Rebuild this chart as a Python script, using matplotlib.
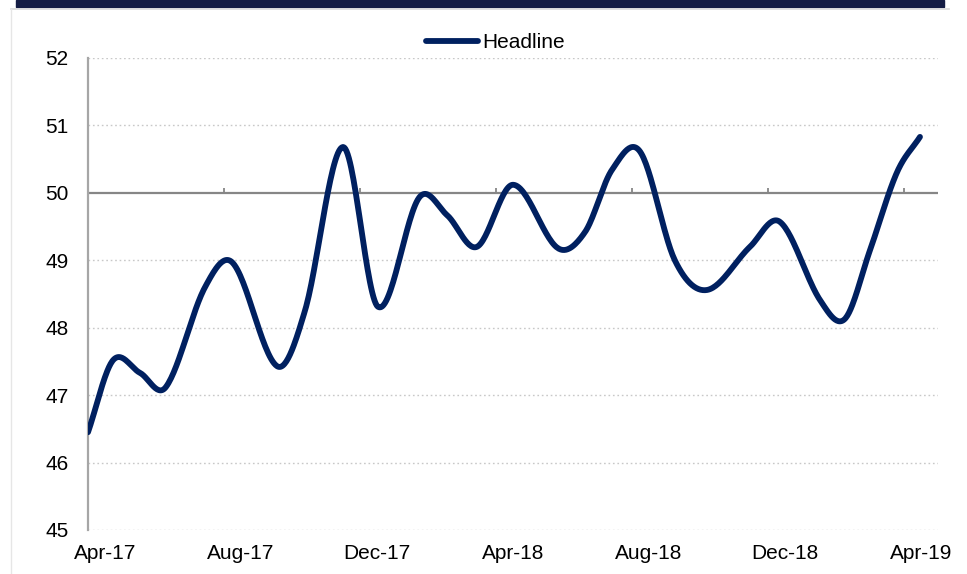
import numpy as np
import matplotlib
matplotlib.use("Agg")
from matplotlib import pyplot as plt
from matplotlib.lines import Line2D
from matplotlib.patches import Rectangle

# months since Apr-17 (start of month) and the headline reading
months = [0.0, 0.74, 1.53, 2.29, 3.44, 4.26, 5.56, 6.38, 7.50, 8.53, 9.74,
          10.56, 11.44, 12.50, 13.82, 14.62, 15.41, 16.24, 17.26, 18.21,
          19.47, 20.35, 21.53, 22.26, 23.00, 23.79, 24.47]
headline = [46.45, 47.52, 47.33, 47.12, 48.60, 48.96, 47.43, 48.25, 50.68,
            48.31, 49.93, 49.67, 49.20, 50.12, 49.18, 49.42, 50.34, 50.61,
            49.00, 48.56, 49.20, 49.57, 48.41, 48.13, 49.15, 50.30, 50.83]

tick_labels = ["Apr-17", "Aug-17", "Dec-17", "Apr-18", "Aug-18", "Dec-18", "Apr-19"]
y_ticks = [45, 46, 47, 48, 49, 50, 51, 52]

NAVY = "#002060"


def smooth(x, y, n=30):
    # cubic hermite with finite-difference slopes (Excel-like smoothed line)
    x = np.asarray(x, float)
    y = np.asarray(y, float)
    m = np.zeros_like(y)
    m[1:-1] = (y[2:] - y[:-2]) / (x[2:] - x[:-2])
    m[0] = (y[1] - y[0]) / (x[1] - x[0])
    m[-1] = (y[-1] - y[-2]) / (x[-1] - x[-2])
    xs, ys = [], []
    for i in range(len(x) - 1):
        h = x[i + 1] - x[i]
        t = np.linspace(0, 1, n, endpoint=False)
        h00 = 2 * t**3 - 3 * t**2 + 1
        h10 = t**3 - 2 * t**2 + t
        h01 = -2 * t**3 + 3 * t**2
        h11 = t**3 - t**2
        xs.append(x[i] + t * h)
        ys.append(h00 * y[i] + h10 * h * m[i] + h01 * y[i + 1] + h11 * h * m[i + 1])
    xs.append([x[-1]])
    ys.append([y[-1]])
    return np.concatenate(xs), np.concatenate(ys)


plt.rcParams["font.family"] = ["Liberation Sans", "DejaVu Sans"]

fig = plt.figure(figsize=(9.67, 5.74), dpi=100)
ax = fig.add_axes([88 / 967, 1 - 530 / 574, 850 / 967, 472 / 574])

# top banner and frame
fig.patches.append(Rectangle((16 / 967, 1 - 7 / 574), 928 / 967, 7 / 574,
                             transform=fig.transFigure, color="#141c44", zorder=0))
fig.add_artist(Line2D([11 / 967, 949 / 967], [1 - 8.5 / 574, 1 - 8.5 / 574],
                      transform=fig.transFigure, color="#d9d9d9", lw=1.2))
fig.add_artist(Line2D([11 / 967, 11 / 967], [0, 1 - 8.5 / 574],
                      transform=fig.transFigure, color="#e6e6e6", lw=1.0))

ax.set_xlim(0, 25)
ax.set_ylim(45, 52)

for v in y_ticks:
    if v != 50:
        ax.axhline(v, color="#c8c8c8", lw=1.0, ls=(0, (1.2, 2.0)), zorder=1)
ax.axhline(50, color="#868686", lw=1.6, zorder=2)
quarters = np.arange(4, 25, 4)
ax.vlines(quarters, 50, 50.07, color="#868686", lw=1.3, zorder=2)

xs, ys = smooth(months, headline)
ax.plot(xs, ys, color=NAVY, lw=4.2, solid_capstyle="round", zorder=3, label="Headline")

ax.set_yticks(y_ticks)
ax.set_xticks(np.arange(0, 25, 4) + 0.5)
ax.set_xticklabels(tick_labels)
ax.tick_params(axis="both", length=0, labelsize=15, colors="black")
ax.tick_params(axis="y", pad=14)
ax.tick_params(axis="x", pad=10)

for side in ["top", "right", "bottom"]:
    ax.spines[side].set_visible(False)
ax.spines["left"].set_color("#a6a6a6")
ax.spines["left"].set_linewidth(1.6)

fig.legend(handles=[Line2D([], [], color=NAVY, lw=4.2, solid_capstyle="round")],
           labels=["Headline"], loc="center", bbox_to_anchor=(495 / 967, 1 - 43 / 574),
           frameon=False, fontsize=15, handlelength=2.5, handletextpad=0.2)

fig.savefig("out.png", dpi=100)
